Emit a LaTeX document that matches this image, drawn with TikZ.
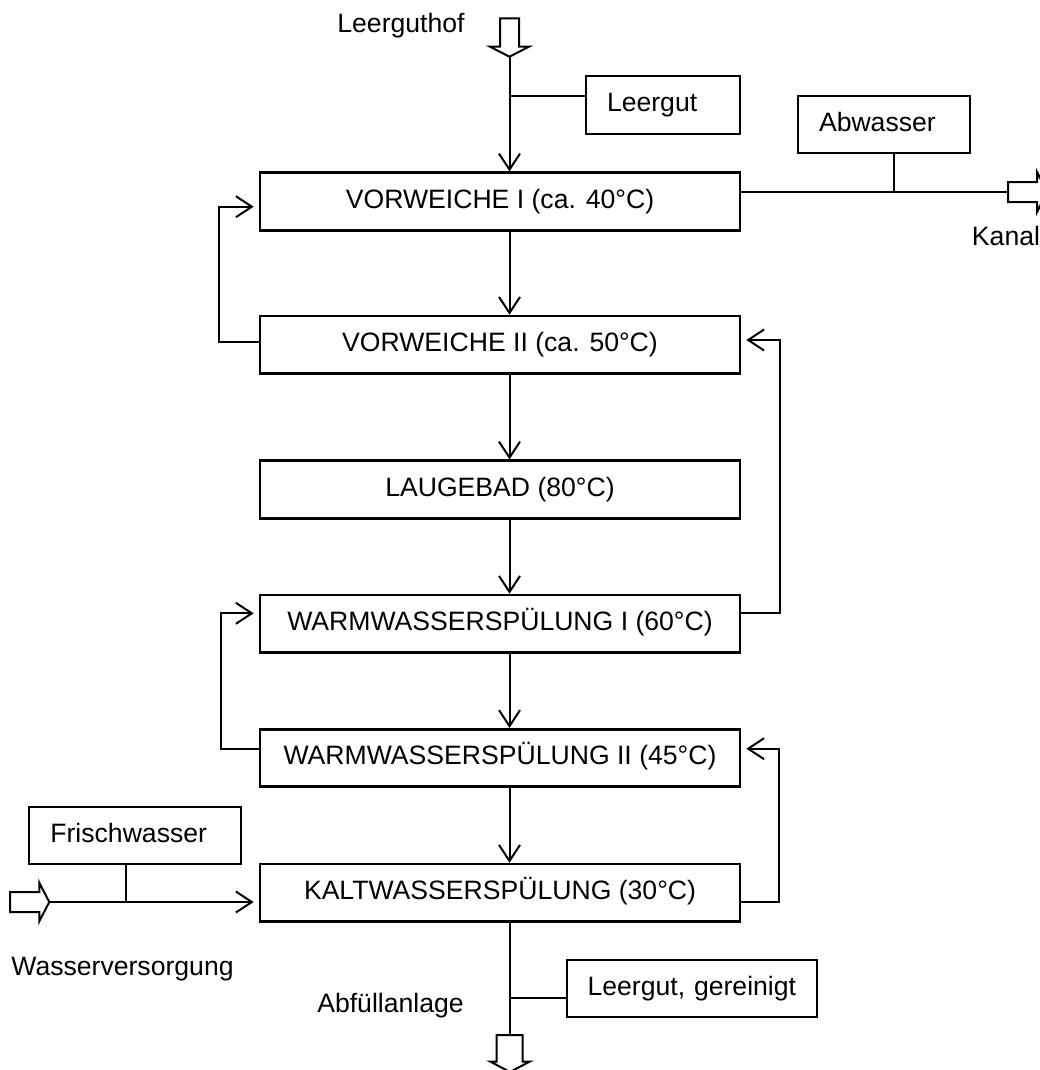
\documentclass[tikz,border=0pt]{standalone}
\usepackage{fontspec}
\setmainfont{Liberation Sans}
\usetikzlibrary{arrows.meta}
\tikzset{
  every node/.style={font=\fontsize{26.6}{32}\selectfont},
  mainbox/.style={draw, line width=2.6pt, minimum width=480pt, inner xsep=0pt, inner ysep=0pt, text height=35.5pt, text depth=22pt, align=center},
  smallbox/.style={draw, line width=2pt, inner xsep=21pt, inner ysep=0pt, text height=35.5pt, text depth=22pt, align=left},
  conn/.style={line width=2pt},
  arr/.style={-{Straight Barb[length=16pt,width=21pt]}},
  arrs/.style={-{Straight Barb[length=16pt,width=21pt]}, shorten >=5pt},
  hollow/.style={line width=2pt, line join=miter},
  lbl/.style={inner sep=0pt, anchor=base}
}
\begin{document}
\begin{tikzpicture}[x=1pt,y=-1pt]
\useasboundingbox (0,0) rectangle (1040,1070);
\clip (0,0) rectangle (1040,1070);

% main process boxes
\node[mainbox] (vw1) at (500,201.5) {VORWEICHE I (ca. 40°C)};
\node[mainbox] (vw2) at (500,344.8) {VORWEICHE II (ca. 50°C)};
\node[mainbox] (lb) at (500,489.5) {LAUGEBAD (80°C)};
\node[mainbox] (ws1) at (500,623.8) {WARMWASSERSPÜLUNG I (60°C)};
\node[mainbox] (ws2) at (500,758) {WARMWASSERSPÜLUNG II (45°C)};
\node[mainbox] (kws) at (500,892.8) {KALTWASSERSPÜLUNG (30°C)};

% side boxes
\node[smallbox, text width=112pt] (lg) at (663,105) {Leergut};
\node[smallbox, text width=130.4pt] (ab) at (884.2,124.5) {Abwasser};
\node[smallbox, text width=169.3pt] (fw) at (135,835.4) {Frischwasser};
\node[smallbox, text width=208pt] (lgr) at (691.6,988.3) {\mbox{Leergut, gereinigt}};

% labels
\node[lbl] (tlh) at (401,32.3) {Leerguthof};
\node[lbl] (tka) at (1006,245) {Kanal};
\node[lbl] (twv) at (122.5,975) {Wasserversorgung};
\node[lbl] (tab) at (390.5,1012.3) {Abfüllanlage};

% helper coordinates
\coordinate (m) at (509.5,0);
\coordinate (tin) at (509.5,56.7);
\coordinate (lgj) at (509.5,96);
\coordinate (kin) at (1008,192);
\coordinate (abx) at (893.6,0);
\coordinate (win) at (49.3,902);
\coordinate (fwx) at (125.5,0);
\coordinate (bout) at (509.5,1035);
\coordinate (lgg) at (509.5,997.7);

% hollow block arrows
\draw[hollow] (500,18.3) -- (500,46.7) -- (490,46.7) -- (tin) -- (529,46.7) -- (519,46.7) -- (519,18.3) -- cycle;
\draw[hollow] (1008,182) -- (1037,182) -- (1037,172) -- (1047,192) -- (1037,212) -- (1037,202) -- (1008,202) -- cycle;
\draw[hollow] (10,892) -- (39.3,892) -- (39.3,882.7) -- (win) -- (39.3,921.3) -- (39.3,912) -- (10,912) -- cycle;
\draw[hollow] (496.5,1035) -- (522.5,1035) -- (522.5,1061.7) -- (529.5,1061.7) -- (510,1072) -- (490.5,1061.7) -- (496.5,1061.7) -- cycle;

% main flow
\draw[conn,arr] (tin) -- (vw1.north -| m);
\draw[conn] (lgj) -- (lgj -| lg.west);
\draw[conn,arr] (vw1.south -| m) -- (vw2.north -| m);
\draw[conn,arr] (vw2.south -| m) -- (lb.north -| m);
\draw[conn,arr] (lb.south -| m) -- (ws1.north -| m);
\draw[conn,arr] (ws1.south -| m) -- (ws2.north -| m);
\draw[conn,arr] (ws2.south -| m) -- (kws.north -| m);
\draw[conn] (kws.south -| m) -- (bout);
\draw[conn] (lgg) -- (lgg -| lgr.west);

% waste water
\draw[conn] (kin -| vw1.east) -- (kin);
\draw[conn] (ab.south -| abx) -- (kin -| abx);

% fresh water
\draw[conn,arrs] (win) -- (win -| kws.west);
\draw[conn] (fw.south -| fwx) -- (win -| fwx);

% counter-current feedbacks
\draw[conn,arrs] ([yshift=3.1pt]vw2.west) -- ++(-40,0) |- ([yshift=-5.2pt]vw1.west);
\draw[conn,arrs] ([yshift=10.5pt]ws1.east) -- ++(39,0) |- ([yshift=4.8pt]vw2.east);
\draw[conn,arrs] ([yshift=9.3pt]ws2.west) -- ++(-38,0) |- ([yshift=10.5pt]ws1.west);
\draw[conn,arrs] ([yshift=-9.2pt]kws.east) -- ++(38,0) |- ([yshift=9.3pt]ws2.east);
\end{tikzpicture}
\end{document}
